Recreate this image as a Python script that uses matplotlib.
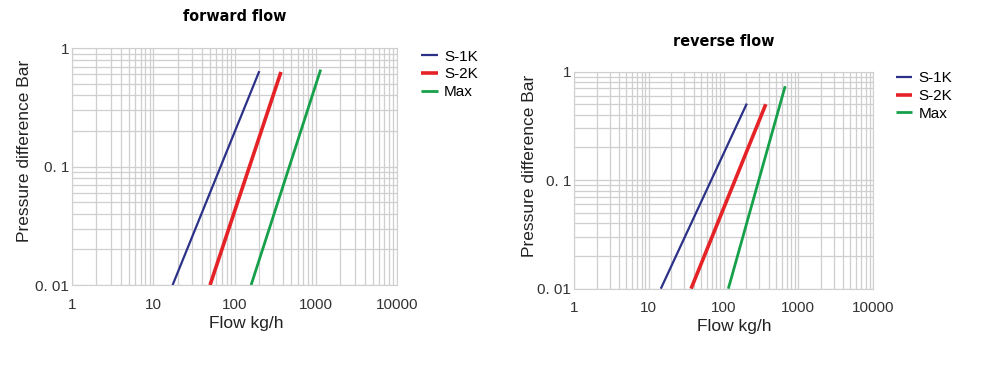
import matplotlib
matplotlib.use('Agg')
import matplotlib.pyplot as plt
from matplotlib.ticker import LogLocator, NullFormatter, FixedLocator, FixedFormatter

# values (end points of the straight log-log lines)
series_names = ['S-1K', 'S-2K', 'Max']
series_colors = ['#2b3187', '#e52226', '#16a04a']
series_widths = [1.6, 2.6, 2.0]

forward_flow = [[17.3, 202], [50, 373], [160, 1150]]
forward_dp = [[0.01, 0.64], [0.01, 0.63], [0.01, 0.66]]

reverse_flow = [[14.5, 205], [36.8, 368], [116, 668]]
reverse_dp = [[0.01, 0.507], [0.01, 0.50], [0.01, 0.733]]

x_ticks = [1, 10, 100, 1000, 10000]
x_labels = ['1', '10', '100', '1000', '10000']
y_ticks = [0.01, 0.1, 1]
y_labels = ['0. 01', '0. 1', '1']

plt.rcParams['font.family'] = ['Liberation Sans', 'DejaVu Sans']


def _draw(ax, title, flows, dps, leg_anchor, xlab_y, ylab_x):
    for name, c, lw, fx, dy in zip(series_names, series_colors, series_widths, flows, dps):
        ax.plot(fx, dy, color=c, lw=lw, label=name, solid_capstyle='butt')
    ax.set_xscale('log')
    ax.set_yscale('log')
    ax.set_xlim(1, 10000)
    ax.set_ylim(0.01, 1)
    ax.xaxis.set_major_locator(FixedLocator(x_ticks))
    ax.xaxis.set_major_formatter(FixedFormatter(x_labels))
    ax.yaxis.set_major_locator(FixedLocator(y_ticks))
    ax.yaxis.set_major_formatter(FixedFormatter(y_labels))
    for axis in (ax.xaxis, ax.yaxis):
        axis.set_minor_locator(LogLocator(base=10, subs=range(2, 10)))
        axis.set_minor_formatter(NullFormatter())
    ax.grid(True, which='both', color='#cfcfcf', lw=0.9)
    ax.set_axisbelow(True)
    ax.tick_params(which='both', length=0, labelsize=11, labelcolor='#333333')
    ax.tick_params(axis='x', pad=9)
    ax.tick_params(axis='y', pad=2)
    for s in ax.spines.values():
        s.set_color('#cfcfcf')
    ax.set_xlabel('Flow kg/h', fontsize=12.5, color='#222222')
    ax.set_ylabel('Pressure difference Bar', fontsize=12.5, color='#222222')
    ax.xaxis.set_label_coords(0.535, xlab_y)
    ax.yaxis.set_label_coords(ylab_x, 0.565)
    ax.set_title(title, fontsize=11.5, fontweight='bold', family='DejaVu Sans',
                 fontstretch='condensed', y=1.08)
    ax.legend(loc='upper left', bbox_to_anchor=leg_anchor, frameon=False,
              fontsize=11, handlelength=1.1, handletextpad=0.4, labelspacing=0.25,
              borderaxespad=0)


def _main() -> None:
    fig = plt.figure(figsize=(10, 3.65), dpi=100)
    ax1 = fig.add_axes([0.072, 0.219, 0.325, 0.649])
    ax2 = fig.add_axes([0.574, 0.209, 0.299, 0.595])
    _draw(ax1, 'forward flow', forward_flow, forward_dp, (1.055, 1.02), -0.132, -0.123)
    _draw(ax2, 'reverse flow', reverse_flow, reverse_dp, (1.055, 1.03), -0.138, -0.124)
    fig.savefig('out.png', dpi=100)


if __name__ == '__main__':
    _main()
